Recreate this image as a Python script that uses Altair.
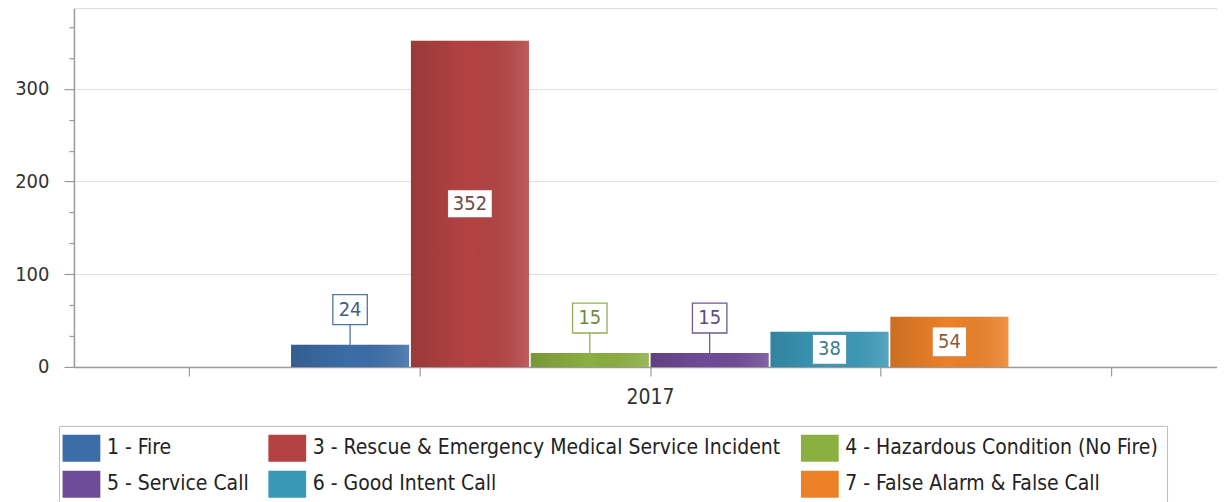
import altair as alt
import pandas as pd

YEAR = "2017"
categories = [
    "1 - Fire",
    "3 - Rescue & Emergency Medical Service Incident",
    "4 - Hazardous Condition (No Fire)",
    "5 - Service Call",
    "6 - Good Intent Call",
    "7 - False Alarm & False Call",
]
counts = [24, 352, 15, 15, 38, 54]
bar_colors = ["#3C6DA8", "#B44242", "#8BAF40", "#704B97", "#3A98B7", "#EC8128"]
border_colors = ["#4F75A6", "#A94848", "#93AD5A", "#6E5B8E", "#4A94AE", "#D9843E"]
text_colors = ["#3F5E86", "#6E4646", "#6F8A3E", "#5E4C7C", "#3E7A90", "#8A5C3C"]
y_tick_values = [0, 33.3333, 66.6667, 100, 133.3333, 166.6667, 200,
                 233.3333, 266.6667, 300, 333.3333, 366.6667]
x_tick_values = [-2, -1, 0, 1, 2]
# legend entries are laid out column by column (2 rows x 3 columns)
legend_order = [categories[i] for i in [0, 3, 1, 4, 2, 5]]
legend_colors = [bar_colors[i] for i in [0, 3, 1, 4, 2, 5]]

FONT = "DejaVu Sans Condensed, DejaVu Sans"

df = pd.DataFrame({"year": YEAR, "cat": categories, "v": counts})

x_enc = alt.X("year:N", axis=None,
              scale=alt.Scale(paddingOuter=0.2967, paddingInner=0, align=0.51))
xo_enc = alt.XOffset("cat:N", sort=categories,
                     scale=alt.Scale(domain=categories, paddingInner=0.015, paddingOuter=0))
y_scale = alt.Scale(domain=[0, 387], nice=False, zero=True)
MAJOR = "abs(datum.value - round(datum.value / 100) * 100) < 0.01"
y_axis = alt.Axis(
    values=y_tick_values,
    labelExpr=f"{MAJOR} ? format(datum.value, 'd') : ''",
    labelOverlap=False,
    gridOpacity={"condition": {"test": MAJOR, "value": 1}, "value": 0},
    tickSize={"condition": {"test": MAJOR, "value": 10}, "value": 5},
    labelPadding=15,
    title=None,
)


def yq(field):
    return alt.Y(field, scale=y_scale, axis=y_axis, title=None)


stroke_enc = alt.Stroke("cat:N", sort=categories,
                        scale=alt.Scale(domain=categories, range=border_colors), legend=None)
fill_enc = alt.Fill("cat:N", sort=categories,
                    scale=alt.Scale(domain=categories, range=text_colors), legend=None)
shape_enc = alt.Shape("digits:N",
                      scale=alt.Scale(domain=["2", "3"],
                                      range=["M-1.15,-1H1.15V1H-1.15Z", "M-1.5,-0.95H1.5V0.95H-1.5Z"]),
                      legend=None)

axis_layer = alt.Chart(pd.DataFrame({"t": [0]})).mark_point(opacity=0).encode(
    x=alt.X("t:Q",
            scale=alt.Scale(domain=[-2.5, 2.46], nice=False, zero=False),
            axis=alt.Axis(values=x_tick_values,
                          labelExpr=f"datum.value == 0 ? '{YEAR}' : ''",
                          labelFontSize=21,
                          grid=False, tickSize=9, labelPadding=11, title=None))
)

base = alt.Chart(df)

bars = base.mark_bar().encode(
    x=x_enc, xOffset=xo_enc, y=yq("v:Q"),
    color=alt.Color("cat:N", sort=legend_order,
                    scale=alt.Scale(domain=legend_order, range=legend_colors),
                    legend=alt.Legend(
                        title=None, orient="none", legendX=-15, legendY=418,
                        columns=3, symbolType="M-1.4,-1H1.4V1H-1.4Z", symbolSize=729,
                        symbolStrokeWidth=0, symbolOpacity=1,
                        labelFont=FONT, labelFontSize=21, labelColor="#222",
                        labelLimit=1000, labelOffset=12, columnPadding=19, rowPadding=9,
                        padding=9, strokeColor="#bbbbbb", fillColor="white")),
)

gradient = alt.LinearGradient(
    gradient="linear", x1=0, x2=1, y1=0, y2=0,
    stops=[alt.GradientStop(color="rgba(0,0,0,0.14)", offset=0),
           alt.GradientStop(color="rgba(0,0,0,0.0)", offset=0.5),
           alt.GradientStop(color="rgba(255,255,255,0.14)", offset=1)])
overlay = base.mark_bar(fill=gradient).encode(x=x_enc, xOffset=xo_enc, y=yq("v:Q"))

small = base.transform_filter("datum.v < 30").transform_calculate(
    digits="toString(length(toString(datum.v)))")
big = base.transform_filter("datum.v >= 30").transform_calculate(
    mid="datum.v / 2", digits="toString(length(toString(datum.v)))")

leader = small.mark_rule(y2Offset=-20, strokeWidth=1.3).encode(
    x=x_enc, xOffset=xo_enc, y=yq("v:Q"), y2=alt.Y2("v:Q"), stroke=stroke_enc)
box_out = small.mark_point(size=900, filled=True, fill="white", opacity=1,
                           strokeWidth=1.3, yOffset=-35).encode(
    x=x_enc, xOffset=xo_enc, y=yq("v:Q"), stroke=stroke_enc, shape=shape_enc)
text_out = small.mark_text(dy=-35, fontSize=20, font=FONT, baseline="middle").encode(
    x=x_enc, xOffset=xo_enc, y=yq("v:Q"), text="v:Q", fill=fill_enc)

box_in = big.mark_point(size=900, filled=True, fill="white", opacity=1,
                        strokeWidth=1.3).encode(
    x=x_enc, xOffset=xo_enc, y=yq("mid:Q"), stroke=stroke_enc, shape=shape_enc)
text_in = big.mark_text(fontSize=20, font=FONT, baseline="middle").encode(
    x=x_enc, xOffset=xo_enc, y=yq("mid:Q"), text="v:Q", fill=fill_enc)

chart = alt.layer(
    axis_layer, bars, overlay, leader, box_out, text_out, box_in, text_in
).resolve_scale(x="independent").properties(
    width=1144, height=359,
    padding={"left": 6, "top": 0, "right": 0, "bottom": 0},
).configure_axis(
    labelFont=FONT, labelFontSize=20, labelColor="#333",
    domainColor="#9a9a9a", domainWidth=1.5, tickColor="#9a9a9a", tickWidth=1.2,
    gridColor="#dedede",
).configure_view(stroke="#d6d6d6")

chart.save("out.html", embed_options={"renderer": "svg", "actions": False})
